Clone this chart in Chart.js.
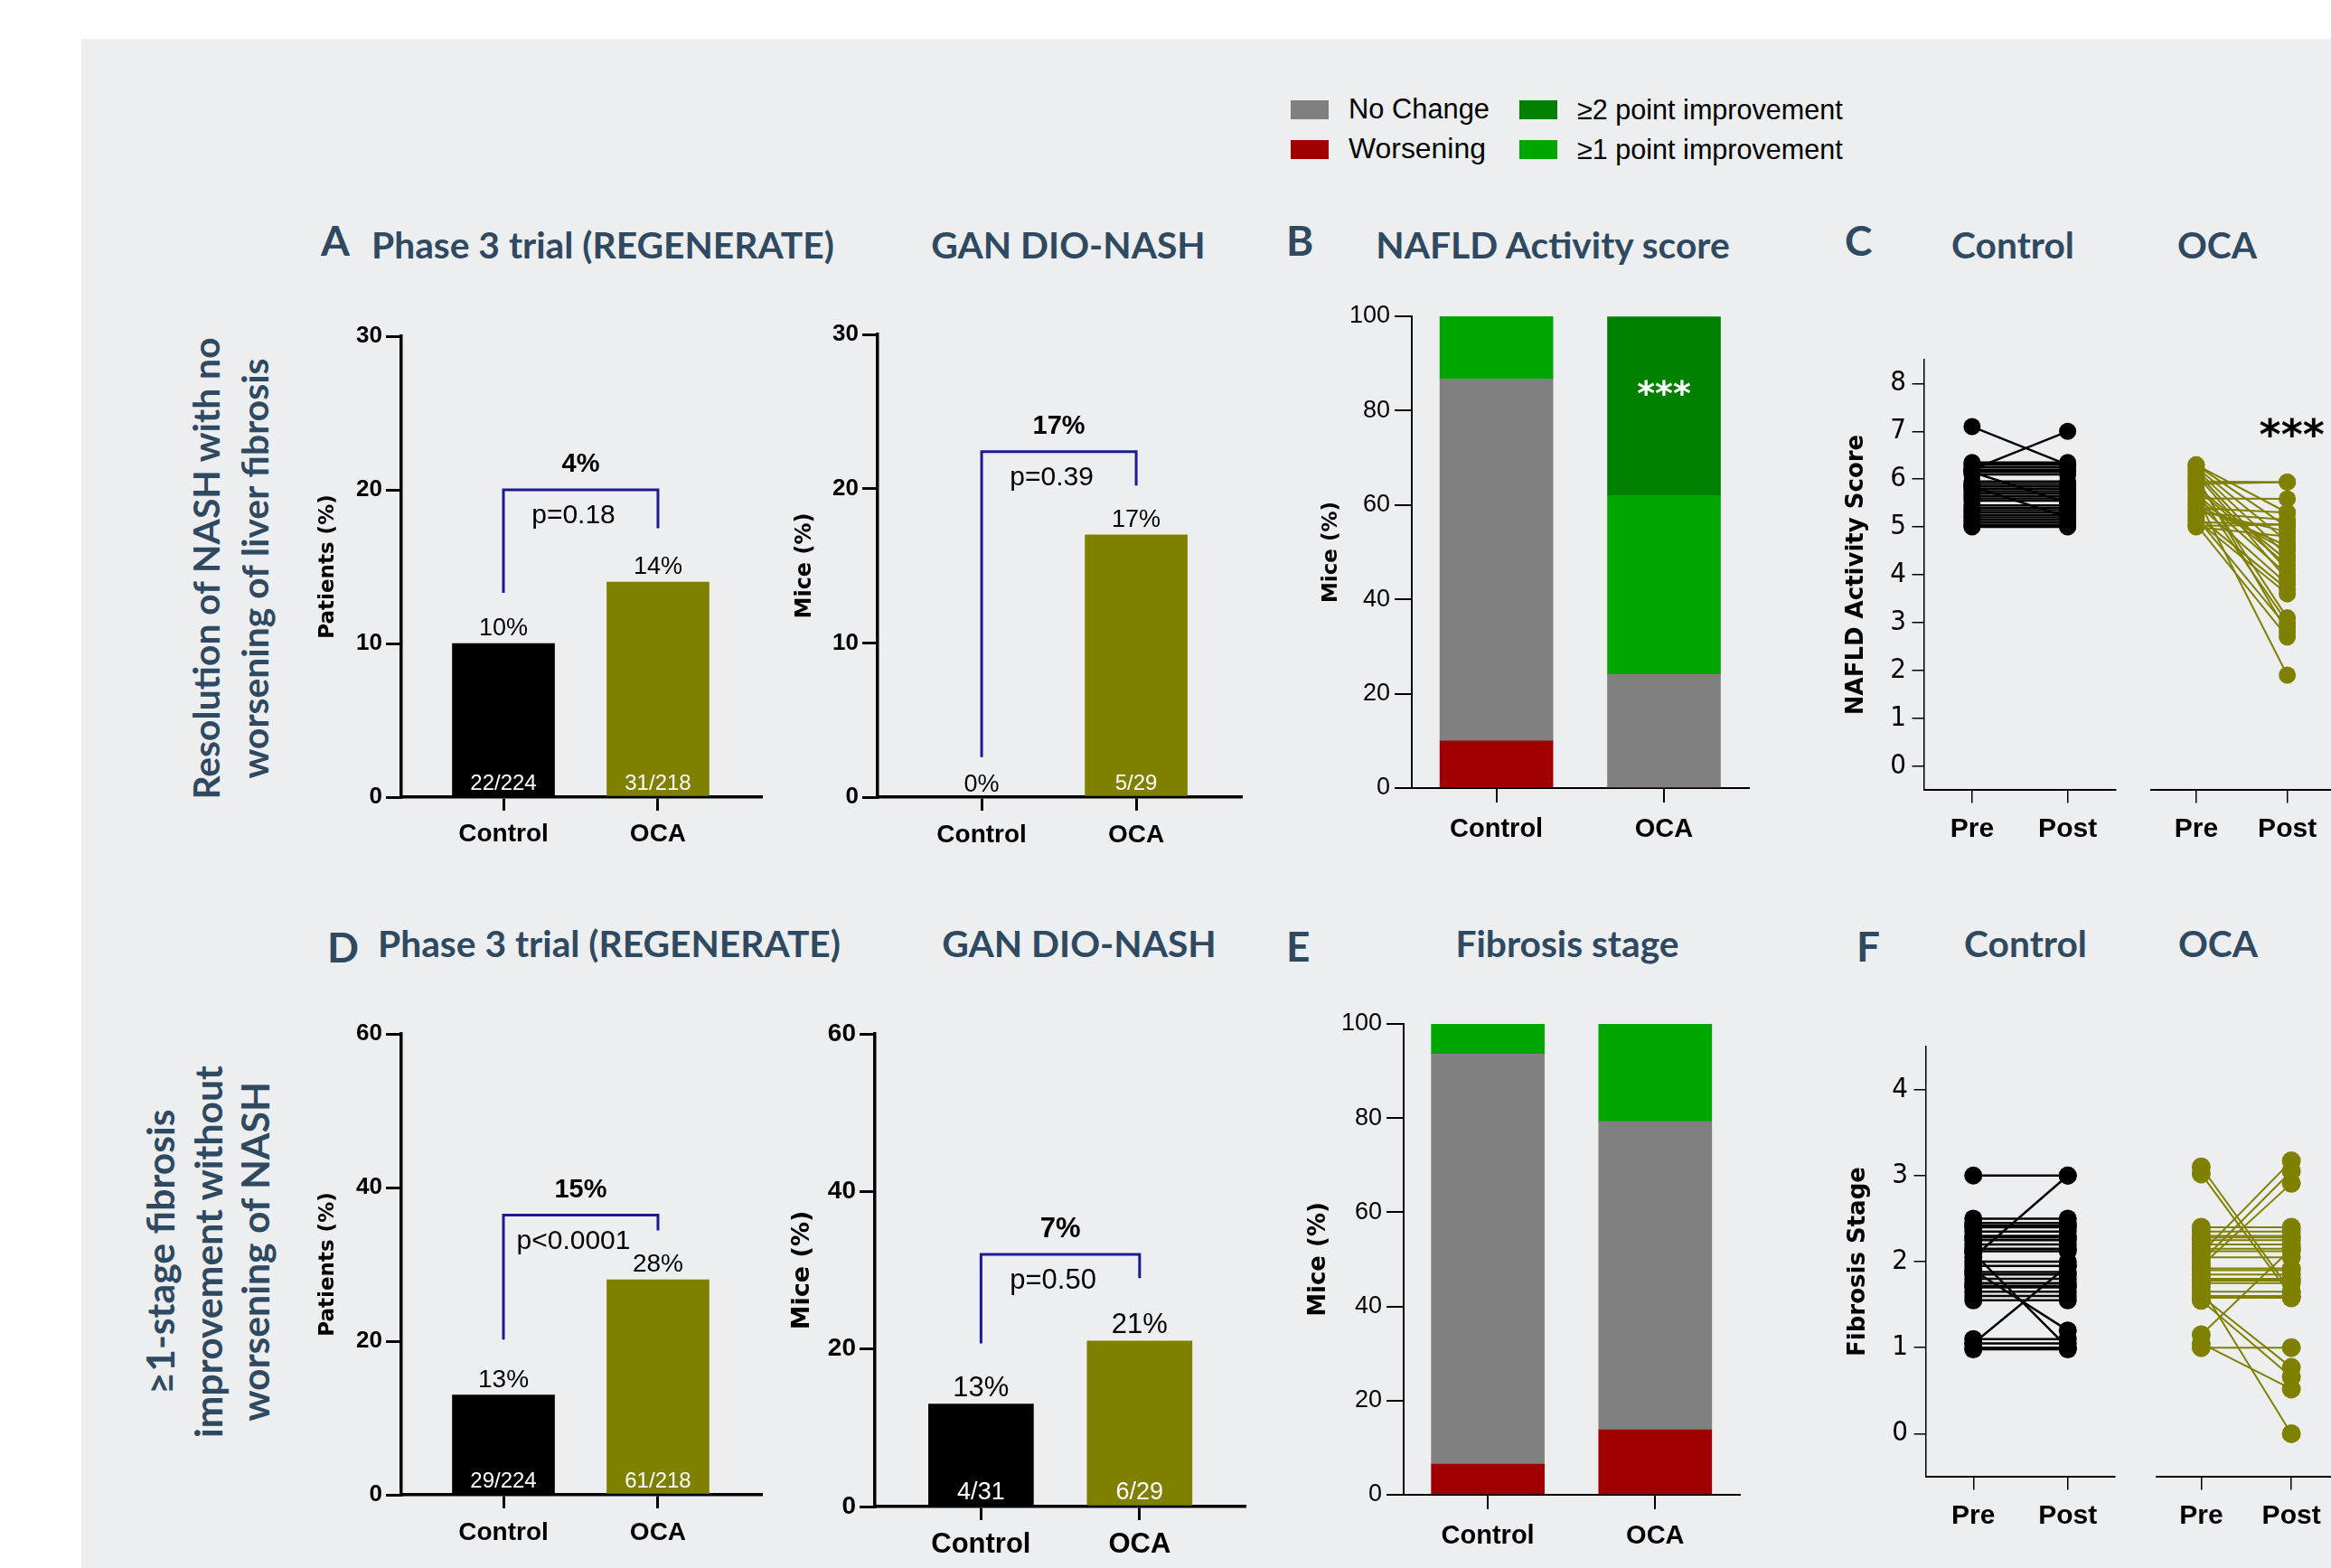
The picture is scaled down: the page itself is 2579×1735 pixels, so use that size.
<!DOCTYPE html>
<html>
<head>
<meta charset="utf-8">
<script src="https://cdn.jsdelivr.net/npm/chart.js@4.4.1/dist/chart.umd.min.js"></script>
<style>
  html, body { margin: 0; padding: 0; background: #fff; }
  #page { position: relative; width: 2579px; height: 1735px; overflow: hidden; background: #fff; }
  #bg { position: absolute; left: 90px; top: 43px; right: 0; bottom: 0; background: #eceef0; }
  canvas { position: absolute; }
  .ttl { position: absolute; font-family: Lato, "Open Sans", sans-serif; font-weight: 700; color: #2f4a60;
         white-space: nowrap; line-height: 1; transform: translateY(-50%); }
  .ctr { transform: translate(-50%, -50%); }
  .side { position: absolute; font-family: Lato, "Open Sans", sans-serif; font-weight: 700; color: #2f4a60;
          white-space: nowrap; line-height: 1; transform: translate(-50%, -50%) rotate(-90deg); }
  .leg { position: absolute; font-family: "Liberation Sans", Arial, sans-serif; color: #000;
         white-space: nowrap; line-height: 1; transform: translateY(-50%); }
  .sw { position: absolute; width: 42px; height: 21px; }
</style>
</head>
<body>
<div id="page"><div id="bg"></div></div>
<script>
// ---------- data ----------
const groups = ["Control", "OCA"];
const timepoints = ["Pre", "Post"];

// resolution of NASH, no worsening of fibrosis
const regenNashPct = [10, 14];
const regenNashN = ["22/224", "31/218"];
const ganNashPct = [0, 17];
const ganNashN = ["", "5/29"];

// >=1 stage fibrosis improvement
const regenFibPct = [13, 28];
const regenFibN = ["29/224", "61/218"];
const ganFibPct = [13, 21];
const ganFibN = ["4/31", "6/29"];

const diffLabels = ["4%", "17%", "15%", "7%"];
const pLabels = ["p=0.18", "p=0.39", "p<0.0001", "p=0.50"];

const pctTicks30 = [0, 10, 20, 30];
const pctTicks60 = [0, 20, 40, 60];
const pctTicks100 = [0, 20, 40, 60, 80, 100];
const nasTicks = [0, 1, 2, 3, 4, 5, 6, 7, 8];
const fibTicks = [0, 1, 2, 3, 4];

// NAFLD activity score change (% of mice)
const nasWorse = [10, 0];
const nasNoChange = [76.7, 24.1];
const nasImp1 = [13.3, 37.9];
const nasImp2 = [0, 37.9];

// fibrosis stage change (% of mice)
const fibWorse = [6.5, 13.8];
const fibNoChange = [87.1, 65.5];
const fibImp1 = [6.4, 20.7];

// individual NAS, pre / post
const nasCtrlPre  = [7.1, 6.2, 6.35, 6.3, 6.25, 6.2, 6.15, 6.1, 5.9, 5.85, 5.8, 5.75, 5.7, 5.65, 5.6, 6.15, 5.85, 5.4, 5.35, 5.3, 5.25, 5.2, 5.15, 5.1, 5.05, 5.0, 5.95, 5.55, 5.45, 5.02];
const nasCtrlPost = [6.3, 7.0, 6.35, 6.3, 6.25, 6.2, 6.15, 6.1, 5.9, 5.85, 5.8, 5.75, 5.7, 5.65, 5.6, 5.5, 5.2, 5.4, 5.35, 5.3, 5.25, 5.2, 5.15, 5.1, 5.05, 5.0, 5.95, 5.55, 5.45, 5.02];
const nasOcaPre  = [6.3, 6.25, 6.2, 6.1, 6.0, 5.95, 5.9, 5.8, 5.7, 5.6, 5.55, 5.5, 5.4, 5.3, 5.25, 5.2, 5.1, 5.05, 5.0, 6.15, 6.05, 5.85, 5.75, 5.65, 5.45, 5.35, 5.15, 6.3, 5.02];
const nasOcaPost = [5.3, 4.7, 4.4, 3.9, 3.1, 5.94, 5.94, 4.2, 4.0, 5.59, 4.5, 3.8, 5.3, 5.15, 3.7, 2.9, 5.05, 2.7, 4.8, 4.1, 2.8, 4.3, 3.0, 1.9, 4.6, 4.9, 3.6, 5.0, 5.05];

// individual fibrosis stage, pre / post
const fibCtrlPre  = [3.0, 2.05, 2.1, 1.9, 1.05, 2.5, 2.45, 2.42, 2.4, 2.35, 2.3, 2.28, 2.25, 2.2, 2.15, 2.12, 2.0, 1.95, 1.88, 1.85, 1.8, 1.75, 1.72, 1.7, 1.65, 1.6, 1.55, 1.1, 1.05, 1.0, 0.98];
const fibCtrlPost = [3.0, 3.0, 1.0, 1.2, 1.95, 2.5, 2.45, 2.42, 2.4, 2.35, 2.3, 2.28, 2.25, 2.2, 2.15, 2.12, 2.0, 1.95, 1.88, 1.85, 1.8, 1.75, 1.72, 1.7, 1.65, 1.6, 1.55, 1.1, 1.05, 1.0, 0.98];
const fibOcaPre  = [3.1, 3.02, 2.1, 2.0, 1.95, 1.15, 1.0, 1.05, 1.6, 1.55, 1.7, 2.4, 2.35, 2.3, 2.28, 2.25, 2.2, 2.15, 2.12, 2.05, 1.92, 1.9, 1.85, 1.8, 1.78, 1.75, 1.65, 1.6, 1.58];
const fibOcaPost = [1.65, 1.6, 3.17, 3.05, 2.91, 2.15, 1.0, 0.52, 0.77, 0.66, 0.0, 2.4, 2.35, 2.3, 2.28, 2.25, 2.2, 2.15, 2.12, 2.05, 1.92, 1.9, 1.85, 1.8, 1.78, 1.75, 1.65, 1.6, 1.58];

// ---------- styles ----------
const C_CTRL = "#000000", C_OCA = "#808000", C_GREY = "#808080", C_RED = "#a00000",
      C_DKGREEN = "#008000", C_GREEN = "#00a600", C_NAVY = "#1b1b8f";
const FONT = '"Liberation Sans", Arial, sans-serif';
const NARROW = '"Liberation Sans Narrow", "DejaVu Sans Condensed", "Liberation Sans", sans-serif';
const WIDE = '"DejaVu Sans", Verdana, sans-serif';

Chart.defaults.font.family = FONT;
const page = document.getElementById("page");

function place(box) {
  const c = document.createElement("canvas");
  c.width = box[2]; c.height = box[3];
  c.style.left = box[0] + "px"; c.style.top = box[1] + "px";
  c.style.width = box[2] + "px"; c.style.height = box[3] + "px";
  page.appendChild(c);
  return c;
}

function layoutFor(box, area) {
  return { padding: { left: 0, top: area[1] - box[1], right: box[0] + box[2] - area[2], bottom: 0 } };
}

function yScale(o) {
  return {
    type: "linear", display: o.show !== false, min: o.range[0], max: o.range[1],
    afterBuildTicks: s => { s.ticks = o.ticks.map(v => ({ value: v })); },
    afterFit: s => { s.width = o.width; },
    border: { display: true, color: "#000", width: o.line },
    grid: { drawOnChartArea: false, drawTicks: true, tickLength: o.tickLen, color: "#000", lineWidth: o.tickW },
    ticks: { color: "#000", padding: o.tickPad, font: o.font },
    title: { display: !!o.title, text: o.title, color: "#000",
             font: { family: WIDE, weight: "bold", size: o.titleSize },
             padding: { top: o.titlePad, bottom: 0 } }
  };
}

function xScale(o) {
  return {
    type: "linear", min: o.range[0], max: o.range[1], offset: false,
    afterBuildTicks: s => { s.ticks = o.labels.map((_, i) => ({ value: i })); },
    afterFit: s => { s.height = o.height; },
    border: { display: true, color: "#000", width: o.line },
    grid: { offset: false, drawOnChartArea: false, drawTicks: true, tickLength: o.tickLen, color: "#000", lineWidth: o.tickW },
    ticks: { color: "#000", padding: o.tickPad, font: o.font, maxRotation: 0, autoSkip: false,
             callback: v => o.labels[v] }
  };
}

// value labels, counts and comparison bracket on the two-bar panels
function barNotes(pct, counts, diff, pval, br, sz) {
  return {
    id: "barNotes",
    afterDatasetsDraw(chart) {
      const { ctx, scales: { x, y } } = chart;
      const y0 = y.getPixelForValue(0);
      ctx.save();
      ctx.textAlign = "center";
      ctx.textBaseline = "alphabetic";
      pct.forEach((v, i) => {
        const px = x.getPixelForValue(i);
        ctx.fillStyle = "#000";
        ctx.font = `${sz.pct}px ${FONT}`;
        if (v === 0) ctx.fillText("0%", px, y0 - 6);
        else ctx.fillText(v + "%", px, y.getPixelForValue(v) - 9);
        if (counts[i]) {
          ctx.fillStyle = "#fff";
          ctx.font = `${sz.n}px ${FONT}`;
          ctx.fillText(counts[i], px, y0 - 8);
        }
      });
      const xl = x.getPixelForValue(0), xr = x.getPixelForValue(1);
      const yt = y.getPixelForValue(br[1]);
      ctx.strokeStyle = C_NAVY;
      ctx.lineWidth = 3;
      ctx.beginPath();
      ctx.moveTo(xl, y.getPixelForValue(br[0]));
      ctx.lineTo(xl, yt);
      ctx.lineTo(xr, yt);
      ctx.lineTo(xr, y.getPixelForValue(br[2]));
      ctx.stroke();
      ctx.fillStyle = "#000";
      ctx.textBaseline = "middle";
      ctx.font = `${sz.p}px ${FONT}`;
      ctx.fillText(pval, (xl + xr) / 2 - 8, yt + 29);
      ctx.font = `bold ${sz.d}px ${FONT}`;
      ctx.fillText(diff, (xl + xr) / 2, yt - 28);
      ctx.restore();
    }
  };
}

function stars(xv, yv, color, size) {
  return {
    id: "stars",
    afterDatasetsDraw(chart) {
      const { ctx, scales: { x, y } } = chart;
      ctx.save();
      ctx.font = `bold ${size}px ${WIDE}`;
      ctx.fillStyle = color;
      ctx.textAlign = "center";
      ctx.textBaseline = "alphabetic";
      ctx.fillText("***", x.getPixelForValue(xv), y.getPixelForValue(yv) + size * 0.55);
      ctx.restore();
    }
  };
}

const baseOpts = { responsive: false, animation: false, devicePixelRatio: 1,
                   plugins: { legend: { display: false }, tooltip: { enabled: false } } };

function barPanel(box, area, p) {
  new Chart(place(box), {
    type: "bar",
    data: { datasets: [{ data: p.pct.map((v, i) => ({ x: i, y: v })),
                         backgroundColor: [C_CTRL, C_OCA], borderWidth: 0, barThickness: p.barW }] },
    options: { ...baseOpts, layout: layoutFor(box, area),
      scales: {
        x: xScale({ range: p.xr, labels: groups, height: box[1] + box[3] - area[3], line: 3.5, tickW: 3,
                    tickLen: 15, tickPad: p.xPad, font: { family: FONT, weight: "bold", size: p.xSize } }),
        y: yScale({ range: p.yr, ticks: p.yTicks, width: area[0] - box[0], line: 3.5, tickW: 3, tickLen: 17, tickPad: 4,
                    font: { family: FONT, weight: "bold", size: p.ySize },
                    title: p.title, titleSize: p.titleSize, titlePad: p.titleX - box[0] - 0.6 * p.titleSize })
      } },
    plugins: [barNotes(p.pct, p.counts, p.diff, p.pval, p.bracket, p.sz)]
  });
}

function stackPanel(box, area, p) {
  const mk = (label, vals, color) => ({ label, data: vals.map((v, i) => ({ x: i, y: v })),
                                        backgroundColor: color, borderWidth: 0, barThickness: 125 });
  new Chart(place(box), {
    type: "bar",
    data: { datasets: p.sets.map(s => mk(s[0], s[1], s[2])) },
    options: { ...baseOpts, layout: layoutFor(box, area),
      scales: {
        x: { ...xScale({ range: p.xr, labels: groups, height: box[1] + box[3] - area[3], line: 2, tickW: 2,
                         tickLen: 16, tickPad: 13, font: { family: FONT, weight: "bold", size: 29 } }), stacked: true },
        y: { ...yScale({ range: [0, 100], ticks: pctTicks100, width: area[0] - box[0], line: 2, tickW: 2, tickLen: 19, tickPad: 5,
                         font: { family: FONT, size: 27 },
                         title: "Mice (%)", titleSize: p.titleSize, titlePad: p.titleX - box[0] - 0.6 * p.titleSize }), stacked: true }
      } },
    plugins: p.extra || []
  });
}

function pairPanel(box, area, p) {
  const sets = p.pre.map((v, i) => ({
    data: [{ x: 0, y: v }, { x: 1, y: p.post[i] }],
    borderColor: p.color, backgroundColor: p.color, borderWidth: p.lw,
    pointRadius: p.r, pointBorderWidth: 0, pointHoverRadius: p.r, tension: 0, clip: false
  }));
  new Chart(place(box), {
    type: "line",
    data: { datasets: sets },
    options: { ...baseOpts, layout: layoutFor(box, area),
      scales: {
        x: xScale({ range: [-0.5, 1.5], labels: timepoints, height: box[1] + box[3] - area[3], line: 2, tickW: 1.5,
                    tickLen: 14.5, tickPad: 11, font: { family: FONT, weight: "bold", size: 30 } }),
        y: yScale({ show: p.showY, range: p.yr, ticks: p.yTicks, width: area[0] - box[0], line: 1.5, tickW: 1.5,
                    tickLen: 13.5, tickPad: 6.5, font: { family: NARROW, size: 31 },
                    title: p.title, titleSize: 26, titlePad: p.titleX - box[0] - 0.6 * 26 })
      } },
    plugins: p.extra || []
  });
}

// ---------- panels ----------
barPanel([330, 330, 530, 640], [444, 372, 842, 882], {
  pct: regenNashPct, counts: regenNashN, diff: diffLabels[0], pval: pLabels[0], bracket: [13.3, 20, 17.5],
  xr: [-0.661, 1.667], yr: [0, 30], yTicks: pctTicks30, barW: 113, xSize: 28, xPad: 9, ySize: 26,
  title: "Patients (%)", titleSize: 23, titleX: 363, sz: { pct: 27, n: 24, p: 30, d: 29 } });

barPanel([870, 330, 520, 640], [971, 370, 1373, 882], {
  pct: ganNashPct, counts: ganNashN, diff: diffLabels[1], pval: pLabels[1], bracket: [2.6, 22.4, 20.2],
  xr: [-0.673, 1.678], yr: [0, 30], yTicks: pctTicks30, barW: 113, xSize: 28, xPad: 10, ySize: 26,
  title: "Mice (%)", titleSize: 24, titleX: 891, sz: { pct: 27, n: 24, p: 30, d: 29 } });

barPanel([330, 1100, 530, 635], [444, 1144, 842, 1654], {
  pct: regenFibPct, counts: regenFibN, diff: diffLabels[2], pval: pLabels[2], bracket: [20.2, 36.4, 34.4],
  xr: [-0.661, 1.667], yr: [0, 60], yTicks: pctTicks60, barW: 113, xSize: 28, xPad: 10, ySize: 26,
  title: "Patients (%)", titleSize: 23, titleX: 363, sz: { pct: 28, n: 24, p: 30, d: 29 } });

barPanel([870, 1100, 520, 635], [968, 1144, 1377, 1667], {
  pct: ganFibPct, counts: ganFibN, diff: diffLabels[3], pval: pLabels[3], bracket: [20.7, 32.0, 29.0],
  xr: [-0.669, 1.662], yr: [0, 60], yTicks: pctTicks60, barW: 116, xSize: 31, xPad: 9, ySize: 28,
  title: "Mice (%)", titleSize: 27, titleX: 888, sz: { pct: 31, n: 27, p: 31, d: 31 } });

stackPanel([1440, 300, 510, 670], [1562, 350, 1935, 872], {
  xr: [-0.505, 1.507], titleSize: 23, titleX: 1473,
  sets: [["Worsening", nasWorse, C_RED], ["No Change", nasNoChange, C_GREY],
         ["≥1 point improvement", nasImp1, C_GREEN], ["≥2 point improvement", nasImp2, C_DKGREEN]],
  extra: [stars(1, 85.3, "#fff", 38)] });

stackPanel([1430, 1080, 510, 655], [1553, 1133, 1925, 1654], {
  xr: [-0.503, 1.506], titleSize: 26, titleX: 1459,
  sets: [["Worsening", fibWorse, C_RED], ["No Change", fibNoChange, C_GREY],
         ["≥1 point improvement", fibImp1, C_GREEN]] });

pairPanel([2010, 350, 340, 620], [2129, 398, 2341, 874], {
  pre: nasCtrlPre, post: nasCtrlPost, color: C_CTRL, r: 9.5, lw: 2.5, yr: [-0.5, 8.5], yTicks: nasTicks,
  title: "NAFLD Activity Score", titleX: 2054 });
pairPanel([2370, 350, 230, 620], [2370, 398, 2581, 874], {
  pre: nasOcaPre, post: nasOcaPost, color: C_OCA, r: 9.5, lw: 2, yr: [-0.5, 8.5], yTicks: nasTicks,
  showY: false, extra: [stars(1.05, 7.1, "#000", 46)] });

pairPanel([2010, 1120, 340, 615], [2131, 1158, 2341, 1634], {
  pre: fibCtrlPre, post: fibCtrlPost, color: C_CTRL, r: 10, lw: 2.5, yr: [-0.5, 4.5], yTicks: fibTicks,
  title: "Fibrosis Stage", titleX: 2056 });
pairPanel([2375, 1120, 230, 615], [2375, 1158, 2585, 1634], {
  pre: fibOcaPre, post: fibOcaPost, color: C_OCA, r: 10.5, lw: 2, yr: [-0.5, 4.5], yTicks: fibTicks,
  showY: false });

// ---------- text ----------
const measure = document.createElement("canvas").getContext("2d");
function widthAt100(txt, el) {
  const cs = getComputedStyle(el);
  measure.font = `${cs.fontWeight} 100px ${cs.fontFamily}`;
  return measure.measureText(txt).width;
}
function addDiv(cls, txt, left, top) {
  const d = document.createElement("div");
  d.className = cls;
  d.textContent = txt;
  d.style.left = left + "px";
  d.style.top = top + "px";
  page.appendChild(d);
  return d;
}
function fitted(cls, txt, left, cy, w) {
  const d = addDiv(cls, txt, left, cy);
  d.style.fontSize = (100 * w / widthAt100(txt, d)) + "px";
  return d;
}

// panel letters
[["A", 355, 266], ["B", 1423, 266], ["C", 2041, 266], ["D", 362, 1048], ["E", 1423, 1047], ["F", 2054, 1047]]
  .forEach(([t, x, y]) => { addDiv("ttl", t, x, y).style.fontSize = "46px"; });

// panel titles share one size, taken from the widest one; text, centre x, centre y
const ref = fitted("ttl", "Phase 3 trial (REGENERATE)", 411, 271, 512);
const titleSize = ref.style.fontSize;
[["Phase 3 trial (REGENERATE)", 674, 1044], ["GAN DIO-NASH", 1182, 271], ["NAFLD Activity score", 1718, 271],
 ["Control", 2227, 271], ["OCA", 2453, 271], ["GAN DIO-NASH", 1194, 1044], ["Fibrosis stage", 1734, 1044],
 ["Control", 2241, 1044], ["OCA", 2454, 1044]]
  .forEach(([t, x, y]) => {
    const d = addDiv("ttl ctr", t, x, y);
    d.style.fontSize = titleSize;
  });

// row titles (rotated)
function sideBlock(lines, xs, cy, refIdx, refW) {
  const els = lines.map((t, i) => addDiv("side", t, xs[i], cy));
  const size = 100 * refW / widthAt100(lines[refIdx], els[refIdx]);
  els.forEach(e => { e.style.fontSize = size + "px"; });
}
sideBlock(["Resolution of NASH with no", "worsening of liver fibrosis"], [228, 282], 629, 0, 513);
sideBlock(["≥1-stage fibrosis", "improvement without", "worsening of NASH"], [177, 230, 282], 1385, 1, 413);

// legend
[[C_GREY, 1428, 111, "No Change", 1492, 121, 156], [C_RED, 1428, 155, "Worsening", 1492, 165, 152],
 [C_DKGREEN, 1681, 111, "≥2 point improvement", 1745, 121, 294], [C_GREEN, 1681, 155, "≥1 point improvement", 1745, 165, 294]]
  .forEach(([c, sx, sy, t, tx, ty, w]) => {
    const s = document.createElement("div");
    s.className = "sw";
    s.style.left = sx + "px"; s.style.top = sy + "px"; s.style.background = c;
    page.appendChild(s);
    fitted("leg", t, tx, ty, w);
  });
</script>
</body>
</html>
